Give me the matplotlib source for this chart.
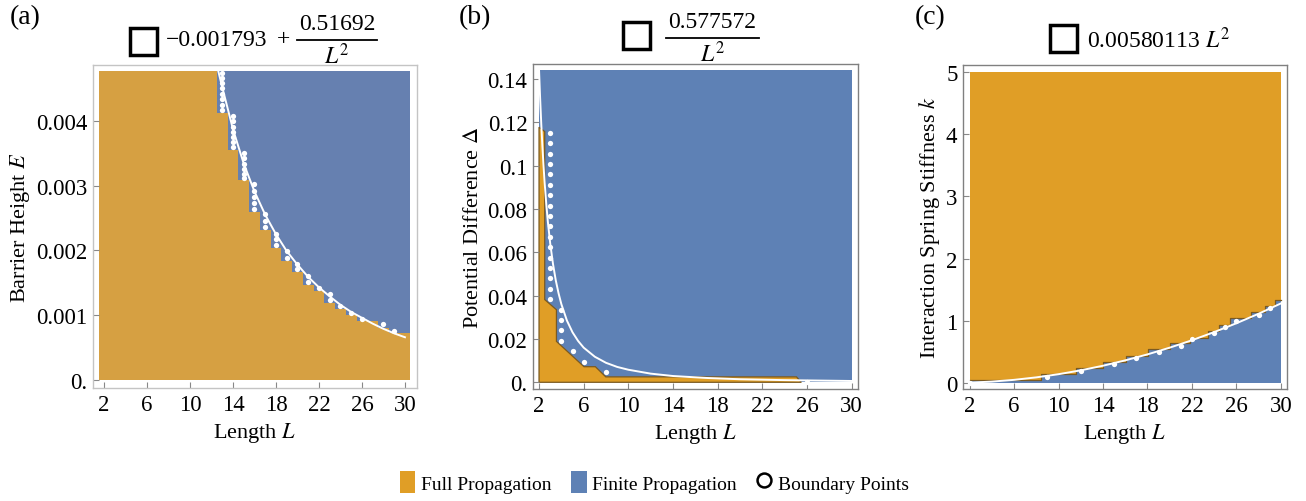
import matplotlib
matplotlib.use("Agg")
import matplotlib.pyplot as plt
from matplotlib.patches import Patch, Rectangle
from matplotlib.lines import Line2D

plt.rcParams['font.family'] = ['Liberation Serif', 'DejaVu Serif']
plt.rcParams['mathtext.fontset'] = 'stix'

ORANGE_A, BLUE_A = '#d6a042', '#6680b0'
ORANGE, BLUE = '#e09e26', '#5e81b5'
EDGE = '#7a5a22'

x_ticks = [2, 6, 10, 14, 18, 22, 26, 30]

# ---- (a) barrier height E vs length L (grid cells centred on integer L)
a_len = [2, 3, 4, 5, 6, 7, 8, 9, 10, 11, 12, 13, 14, 15, 16, 17, 18, 19, 20, 21,
         22, 23, 24, 25, 26, 27, 28, 29, 30]
a_top = 0.00477
a_bound = [0.00477, 0.00477, 0.00477, 0.00477, 0.00477, 0.00477, 0.00477, 0.00477,
           0.00477, 0.00477, 0.00477, 0.00412, 0.00355, 0.00308, 0.00260, 0.00232,
           0.00204, 0.00184, 0.00166, 0.00147, 0.00137, 0.00119, 0.00109, 0.00100,
           0.00091, 0.00091, 0.00081, 0.00072, 0.00072]
a_dot_L = [13, 13, 13, 13, 13, 13, 13, 13,
           14, 14, 14, 14, 14, 14, 14,
           15, 15, 15, 15, 15, 15,
           16, 16, 16, 16, 16,
           17, 17, 17, 18, 18, 18, 19, 19, 20, 20, 21, 21, 22, 23, 23,
           24, 25, 26, 28, 29]
a_dot_E = [0.00474, 0.00466, 0.00458, 0.00450, 0.00442, 0.00434, 0.00425, 0.00416,
           0.00407, 0.00399, 0.00391, 0.00383, 0.00375, 0.00367, 0.00359,
           0.00350, 0.00342, 0.00334, 0.00326, 0.00318, 0.00311,
           0.00302, 0.00292, 0.00283, 0.00273, 0.00264,
           0.00256, 0.00246, 0.00236, 0.00226, 0.00217, 0.00208, 0.00199, 0.00189,
           0.00179, 0.00171, 0.00160, 0.00152, 0.00142, 0.00133, 0.00123,
           0.00115, 0.00104, 0.00094, 0.00086, 0.00076]
a_fit_L = [12.63, 13, 14, 15, 16, 17, 18, 19, 20, 21, 22, 23, 24, 25, 26, 27, 28, 29, 30]
a_fit_E = [0.00477, 0.00452, 0.00387, 0.00334, 0.00291, 0.00255, 0.00225, 0.00199,
           0.00178, 0.00159, 0.00143, 0.00129, 0.00116, 0.00105, 0.00096, 0.00087,
           0.00079, 0.00072, 0.00066]

# ---- (b) potential difference vs length L
b_range_L = [2, 30]
b_top = 0.1442
b_poly_L = [2, 2, 2.51, 2.51, 3.56, 3.56, 6.03, 7.05, 7.98, 25.07, 25.5]
b_poly_D = [0, 0.1178, 0.1158, 0.0382, 0.0335, 0.0189, 0.0072, 0.0072, 0.0025, 0.0025, 0]
b_dot_L = [3, 3, 3, 3, 3, 3, 3, 3, 3, 3, 3, 3, 3, 3, 3, 3, 3, 4, 4, 4, 4, 5, 6, 8, 26]
b_dot_D = [0.1152, 0.1104, 0.1056, 0.1008, 0.0960, 0.0912, 0.0864, 0.0816, 0.0768,
           0.0720, 0.0672, 0.0624, 0.0576, 0.0528, 0.0480, 0.0432, 0.0384,
           0.0336, 0.0288, 0.0240, 0.0192, 0.0144, 0.0096, 0.0048, 0.0]
b_fit_L = [2.0, 2.1, 2.2, 2.3, 2.4, 2.5, 2.65, 2.8, 3.0, 3.25, 3.5, 3.75, 4.0, 4.5,
           5.0, 5.5, 6.0, 7.0, 8.0, 9.0, 10.0, 12.0, 14.0, 17.0, 20.0, 24.0, 30.0]
b_fit_D = [0.1444, 0.1310, 0.1193, 0.1092, 0.1003, 0.0924, 0.0823, 0.0737, 0.0642,
           0.0547, 0.0471, 0.0411, 0.0361, 0.0285, 0.0231, 0.0191, 0.0160, 0.0118,
           0.0090, 0.0071, 0.0058, 0.0040, 0.0029, 0.0020, 0.0014, 0.0010, 0.0006]

# ---- (c) interaction spring stiffness k vs length L
c_range_L = [2, 30]
c_top = 5.0
c_step_L = [2, 8.45, 11.53, 14.0, 16.1, 18.05, 20.0, 21.8, 23.45, 24.44, 25.4,
            27.36, 28.55, 29.45, 30]
c_step_k = [0.05, 0.15, 0.24, 0.34, 0.44, 0.54, 0.64, 0.73, 0.84, 0.94, 1.04,
            1.14, 1.23, 1.34, 1.34]
c_dot_L = [2, 9, 12, 15, 17, 19, 21, 22, 24, 25, 26, 28, 29]
c_dot_k = [0.0, 0.1, 0.2, 0.3, 0.4, 0.5, 0.6, 0.7, 0.8, 0.9, 1.0, 1.1, 1.2]
c_fit_L = [2, 4, 6, 8, 10, 12, 14, 16, 18, 20, 22, 24, 26, 28, 30]
c_fit_k = [0.006, 0.023, 0.051, 0.091, 0.142, 0.204, 0.278, 0.364, 0.460, 0.568,
           0.687, 0.818, 0.960, 1.113, 1.278]

fig = plt.figure(figsize=(13.06, 5.02), dpi=100)
W, H = 1306, 502


def fx(px):
    return px / W


def fy(py):
    return 1 - py / H


def add_axes(x0, y0, x1, y1):
    return fig.add_axes([fx(x0), fy(y1), (x1 - x0) / W, (y1 - y0) / H])


def style(ax, xlim, ylim, yticks, ylabels, ylabel, frame):
    ax.set_xlim(xlim)
    ax.set_ylim(ylim)
    ax.set_xticks(x_ticks, [str(t) for t in x_ticks])
    ax.set_yticks(yticks, ylabels)
    ax.tick_params(direction='in', length=4, width=0.8, color='#888888',
                   labelsize=16.5, pad=4)
    for s in ax.spines.values():
        s.set_color(frame)
        s.set_linewidth(1.0)
    ax.set_xlabel('Length $L$', fontsize=16, labelpad=4)
    ax.set_ylabel(ylabel, fontsize=16, labelpad=3)


dot_kw = dict(ls='none', marker='o', ms=3.8, color='white', mec='none', zorder=5)

# (a)
ax = add_axes(93, 66, 417, 389)
ax.bar(a_len, a_bound, width=1.0, color=ORANGE_A, linewidth=0)
ax.bar(a_len, [a_top - b for b in a_bound], bottom=a_bound, width=1.0,
       color=BLUE_A, linewidth=0)
ax.plot(a_fit_L, a_fit_E, color='white', lw=1.4, zorder=4)
ax.plot(a_dot_L, a_dot_E, **dot_kw)
style(ax, (0.98, 31.12), (-0.000123, 0.004861),
      [0, 0.001, 0.002, 0.003, 0.004], ['0.', '0.001', '0.002', '0.003', '0.004'],
      'Barrier Height $E$', '#c4c4c4')

# (b)
ax = add_axes(533, 65, 858, 390)
ax.fill_between(b_range_L, 0, b_top, color=BLUE, linewidth=0)
ax.fill(b_poly_L, b_poly_D, facecolor=ORANGE, edgecolor=EDGE, linewidth=0.9)
ax.plot(b_fit_L, b_fit_D, color='white', lw=1.4, zorder=4)
ax.plot(b_dot_L, b_dot_D, **dot_kw)
style(ax, (1.46, 30.58), (-0.0031, 0.1470),
      [0, 0.02, 0.04, 0.06, 0.08, 0.1, 0.12, 0.14],
      ['0.', '0.02', '0.04', '0.06', '0.08', '0.1', '0.12', '0.14'],
      'Potential Difference $\\Delta$', '#808080')

# (c)
ax = add_axes(963, 66, 1287, 390)
ax.fill_between(c_range_L, 0, c_top, color=ORANGE, linewidth=0)
ax.fill_between(c_step_L, 0, c_step_k, step='post', color=BLUE, linewidth=0)
ax.step(c_step_L, c_step_k, where='post', color=EDGE, lw=0.9)
ax.plot(c_fit_L, c_fit_k, color='white', lw=1.4, zorder=4)
ax.plot(c_dot_L, c_dot_k, **dot_kw)
style(ax, (1.40, 30.56), (-0.096, 5.11), [0, 1, 2, 3, 4, 5],
      ['0', '1', '2', '3', '4', '5'], 'Interaction Spring Stiffness $k$', '#808080')

# panel letters
for x, lab in [(25, '(a)'), (475, '(b)'), (930, '(c)')]:
    fig.text(fx(x), fy(18), lab, fontsize=20, ha='center', va='center')


def box(x, y):
    fig.add_artist(Rectangle((fx(x), fy(y + 27)), 27 / W, 27 / H,
                             transform=fig.transFigure, fill=False,
                             edgecolor='black', linewidth=2.5))


def fraction(x0, x1, ybar, num):
    xc = (x0 + x1) / 2
    fig.text(fx(xc), fy(ybar - 17), num, fontsize=17, ha='center', va='center')
    fig.add_artist(Line2D([fx(x0), fx(x1)], [fy(ybar), fy(ybar)],
                          transform=fig.transFigure, color='black', lw=1.3))
    fig.text(fx(xc), fy(ybar + 15), '$L^2$', fontsize=17, ha='center', va='center')


# (a) fit formula
box(130, 29)
fig.text(fx(166), fy(40), '\u22120.001793', fontsize=17, ha='left', va='center')
fig.text(fx(284), fy(40), '+', fontsize=17, ha='center', va='center')
fraction(297, 377, 41, '0.51692')
# (b) fit formula
box(623, 23)
fraction(666, 759, 39, '0.577572')
# (c) fit formula
box(1050, 26)
fig.text(fx(1087), fy(40), '0.00580113 $L^2$', fontsize=17, ha='left', va='center')

handles = [Patch(facecolor=ORANGE, edgecolor='none'),
           Patch(facecolor=BLUE, edgecolor='none'),
           Line2D([], [], ls='none', marker='o', ms=10, mfc='white', mec='black', mew=1.8)]
fig.legend(handles, ['Full Propagation', 'Finite Propagation', 'Boundary Points'],
           loc='center', bbox_to_anchor=(0.501, fy(483)), ncol=3, frameon=False,
           fontsize=14, handlelength=0.8, handleheight=1.3, handletextpad=0.3,
           columnspacing=1.0)

fig.savefig('out.png', dpi=100)
